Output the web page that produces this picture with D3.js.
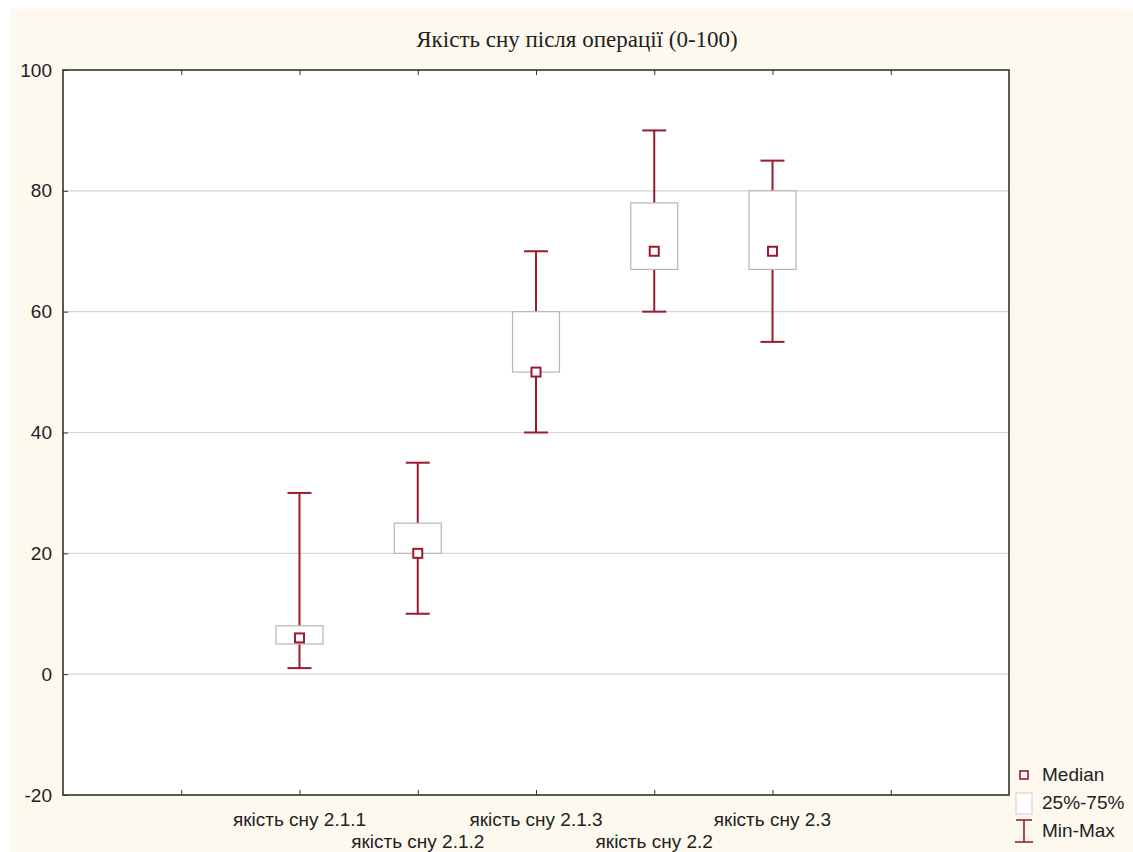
<!DOCTYPE html>
<html><head><meta charset="utf-8">
<script src="https://cdn.jsdelivr.net/npm/d3@7/dist/d3.min.js"></script>
<style>body{margin:0;background:#fff}svg{display:block}</style>
</head><body>
<svg id="c" width="1133" height="852"></svg>
<script>
const categories = ["якість сну 2.1.1","якість сну 2.1.2","якість сну 2.1.3","якість сну 2.2","якість сну 2.3"];
const minVals    = [1, 10, 40, 60, 55];
const q1Vals     = [5, 20, 50, 67, 67];
const medianVals = [6, 20, 50, 70, 70];
const q3Vals     = [8, 25, 60, 78, 80];
const maxVals    = [30, 35, 70, 90, 85];
const yTicks = [-20, 0, 20, 40, 60, 80, 100];
const gridTicks = [0, 20, 40, 60, 80];
const title = "Якість сну після операції (0-100)";
const legendLabels = ["Median", "25%-75%", "Min-Max"];

const svg = d3.select("#c");
const W = 1133, H = 852;
const L = 63, R = 1009, T = 70, B = 795;
const red = "#9b1a2e", boxStroke = "#b5b5b5";
const sans = "Liberation Sans, Arial, sans-serif";

svg.append("rect").attr("x",10).attr("y",9).attr("width",W-10).attr("height",H-9).attr("fill","#fdf9ef");
svg.append("rect").attr("x",L).attr("y",T).attr("width",R-L).attr("height",B-T).attr("fill","#fff");

const y = d3.scaleLinear().domain([-20,100]).range([B,T]);
const x = d3.scaleLinear().domain([0,8]).range([L,R]);
const pos = categories.map((c,i)=>i+2);

// gridlines
svg.append("g").selectAll("line").data(gridTicks).join("line")
  .attr("x1",L).attr("x2",R).attr("y1",d=>y(d)).attr("y2",d=>y(d))
  .attr("stroke","#d6d6d6").attr("stroke-width",1.2);

// y axis
const yAxis = d3.axisLeft(y).tickValues(yTicks).tickSize(-5).tickPadding(11).tickFormat(d=>String(d));
const gy = svg.append("g").attr("transform",`translate(${L},0)`).call(yAxis);
gy.select(".domain").remove();
gy.selectAll("line").attr("stroke","#333");
gy.selectAll("text").attr("font-family",sans).attr("font-size",19).attr("fill","#222");

// x axis ticks bottom and top
const xt = d3.range(1,8);
const xAxisB = d3.axisBottom(x).tickValues(xt).tickSize(-5).tickFormat("");
const gxb = svg.append("g").attr("transform",`translate(0,${B})`).call(xAxisB);
gxb.select(".domain").remove(); gxb.selectAll("line").attr("stroke","#333");
const xAxisT = d3.axisTop(x).tickValues(xt).tickSize(-5).tickFormat("");
const gxt = svg.append("g").attr("transform",`translate(0,${T})`).call(xAxisT);
gxt.select(".domain").remove(); gxt.selectAll("line").attr("stroke","#333");

// category labels (staggered)
svg.append("g").selectAll("text").data(categories).join("text")
  .attr("x",(d,i)=>x(pos[i])).attr("y",(d,i)=> i%2===0 ? 826 : 848)
  .attr("text-anchor","middle").attr("font-family",sans)
  .attr("font-size",19).attr("fill","#222").text(d=>d);

// frame
svg.append("rect").attr("x",L).attr("y",T).attr("width",R-L).attr("height",B-T)
  .attr("fill","none").attr("stroke","#333").attr("stroke-width",1.6);

// boxes
const bw = 47, cw = 24, ms = 9;
const g = svg.append("g");
categories.forEach((c,i)=>{
  const cx = x(pos[i]);
  g.append("line").attr("x1",cx).attr("x2",cx).attr("y1",y(maxVals[i])).attr("y2",y(q3Vals[i])).attr("stroke",red).attr("stroke-width",2);
  g.append("line").attr("x1",cx).attr("x2",cx).attr("y1",y(q1Vals[i])).attr("y2",y(minVals[i])).attr("stroke",red).attr("stroke-width",2);
  g.append("line").attr("x1",cx-cw/2).attr("x2",cx+cw/2).attr("y1",y(maxVals[i])).attr("y2",y(maxVals[i])).attr("stroke",red).attr("stroke-width",2);
  g.append("line").attr("x1",cx-cw/2).attr("x2",cx+cw/2).attr("y1",y(minVals[i])).attr("y2",y(minVals[i])).attr("stroke",red).attr("stroke-width",2);
  g.append("rect").attr("x",cx-bw/2).attr("y",y(q3Vals[i])).attr("width",bw).attr("height",y(q1Vals[i])-y(q3Vals[i]))
    .attr("fill","#fff").attr("stroke",boxStroke).attr("stroke-width",1.2);
  g.append("rect").attr("x",cx-ms/2).attr("y",y(medianVals[i])-ms/2).attr("width",ms).attr("height",ms)
    .attr("fill","#fff").attr("stroke",red).attr("stroke-width",2);
});

// title
svg.append("text").attr("x",577).attr("y",47).attr("text-anchor","middle")
  .attr("font-family","Liberation Serif, Times New Roman, serif").attr("font-size",23).attr("fill","#222").text(title);

// legend
const lg = svg.append("g").attr("font-family",sans).attr("font-size",19).attr("fill","#222");
lg.append("rect").attr("x",1020).attr("y",771).attr("width",8).attr("height",8).attr("fill","#fff").attr("stroke",red).attr("stroke-width",1.6);
lg.append("text").attr("x",1042).attr("y",781).text(legendLabels[0]);
lg.append("rect").attr("x",1016).attr("y",793).attr("width",16).attr("height",21).attr("fill","#fff").attr("stroke","#ccc").attr("stroke-width",1);
lg.append("text").attr("x",1042).attr("y",809).text(legendLabels[1]);
lg.append("line").attr("x1",1024).attr("x2",1024).attr("y1",820).attr("y2",842).attr("stroke",red).attr("stroke-width",1.6);
lg.append("line").attr("x1",1016).attr("x2",1032).attr("y1",820).attr("y2",820).attr("stroke",red).attr("stroke-width",1.6);
lg.append("line").attr("x1",1015).attr("x2",1033).attr("y1",842).attr("y2",842).attr("stroke",red).attr("stroke-width",1.6);
lg.append("text").attr("x",1042).attr("y",837).text(legendLabels[2]);
</script>
</body></html>
